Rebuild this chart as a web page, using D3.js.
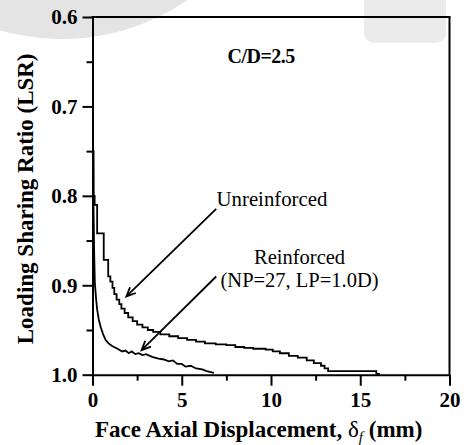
<!DOCTYPE html>
<html>
<head>
<meta charset="utf-8">
<script src="https://cdn.jsdelivr.net/npm/d3@7"></script>
<style>
  html, body { margin: 0; padding: 0; background: #fff; }
  svg { display: block; }
</style>
</head>
<body>
<script>
// ---- data ----
const xTicks = [0, 5, 10, 15, 20];
const xMinorTicks = [2.5, 7.5, 12.5, 17.5];
const yTicks = [0.6, 0.7, 0.8, 0.9, 1.0];
const yMinorTicks = [0.65, 0.75, 0.85, 0.95];

const unreinforcedX = [0.03, 0.06, 0.12, 0.26, 0.63, 0.88, 1.00, 1.12, 1.22, 1.35, 1.50, 1.62, 1.80, 2.00, 2.25, 2.50, 2.80, 3.10, 3.40, 3.80, 4.30, 4.80, 5.30, 5.80, 6.30, 6.90, 7.50, 8.00, 8.50, 9.00, 9.70, 10.10, 10.50, 11.00, 11.50, 12.00, 12.40, 12.80, 13.00, 13.20, 13.30, 15.90, 16.10];
const unreinforcedLSR = [0.66, 0.75, 0.80, 0.810, 0.842, 0.8715, 0.890, 0.896, 0.903, 0.910, 0.916, 0.921, 0.926, 0.931, 0.936, 0.940, 0.944, 0.947, 0.950, 0.952, 0.955, 0.957, 0.959, 0.961, 0.963, 0.965, 0.966, 0.967, 0.969, 0.970, 0.971, 0.972, 0.974, 0.976, 0.979, 0.981, 0.984, 0.987, 0.990, 0.993, 0.996, 0.996, 0.999];

const reinforcedX = [0.02, 0.05, 0.09, 0.13, 0.20, 0.26, 0.35, 0.45, 0.58, 0.73, 0.90, 1.10, 1.40, 1.66, 1.85, 2.03, 2.20, 2.40, 2.59, 2.80, 3.00, 3.34, 3.70, 4.00, 4.27, 4.50, 4.75, 5.00, 5.21, 5.50, 5.80, 6.15, 6.40, 6.80];
const reinforcedLSR = [0.70, 0.80, 0.86, 0.897, 0.915, 0.927, 0.938, 0.946, 0.954, 0.961, 0.965, 0.968, 0.971, 0.974, 0.973, 0.976, 0.974, 0.977, 0.976, 0.978, 0.977, 0.980, 0.982, 0.983, 0.985, 0.984, 0.988, 0.988, 0.991, 0.990, 0.993, 0.994, 0.996, 0.998];

// annotations (data units)
const caseLabel = { text: "C/D=2.5", x: 7.56, y: 0.6514 };
const unreinforcedLabel = { text: "Unreinforced", x: 6.95, y: 0.8112 };
const reinforcedLabel = { lines: ["Reinforced", "(NP=27, LP=1.0D)"], x: 11.6, y: [0.8765, 0.9015] };
const arrows = [
  { x1: 6.93, y1: 0.8145, x2: 1.90, y2: 0.9125 },
  { x1: 6.93, y1: 0.8902, x2: 2.75, y2: 0.9726 }
];

// ---- layout ----
const W = 464, H = 445;
const svg = d3.select("body").append("svg").attr("width", W).attr("height", H);
const serif = "'Liberation Serif', 'Times New Roman', serif";

// background decorations
svg.append("circle").attr("cx", 62).attr("cy", -182).attr("r", 221).attr("fill", "#e4e4e4");
svg.append("rect").attr("x", 364).attr("y", -15).attr("width", 82).attr("height", 58)
  .attr("rx", 10).attr("fill", "#ebebeb");

const x = d3.scaleLinear().domain([0, 20]).range([92.5, 449.5]);
const y = d3.scaleLinear().domain([0.6, 1.0]).range([17, 374.7]);

// curves
const lineStep = d3.line().x(d => x(d[0])).y(d => y(d[1])).curve(d3.curveStepBefore);
const lineLin = d3.line().x(d => x(d[0])).y(d => y(d[1]));
svg.append("path").datum(unreinforcedX.map((v, i) => [v, unreinforcedLSR[i]]))
  .attr("d", lineStep).attr("fill", "none").attr("stroke", "#000").attr("stroke-width", 1.8);
svg.append("path").datum(reinforcedX.map((v, i) => [v, reinforcedLSR[i]]))
  .attr("d", lineLin).attr("fill", "none").attr("stroke", "#000").attr("stroke-width", 1.8)
  .attr("stroke-linejoin", "miter");

// axes
function styleAxis(g) {
  g.select(".domain").attr("stroke-width", 2);
  g.selectAll(".tick line").attr("stroke-width", 2);
  g.selectAll("text").attr("font-family", serif).attr("font-weight", "bold")
    .attr("font-size", 21).attr("fill", "#000");
}
const gy = svg.append("g").attr("transform", `translate(${x(0)},0)`)
  .call(d3.axisLeft(y).tickValues(yTicks).tickSize(10).tickSizeOuter(0).tickPadding(5).tickFormat(d3.format(".1f")));
styleAxis(gy);
gy.selectAll("text").attr("dy", "0.33em");
const gyMinor = svg.append("g").attr("transform", `translate(${x(0)},0)`)
  .call(d3.axisLeft(y).tickValues(yMinorTicks).tickSize(6).tickSizeOuter(0).tickFormat(""));
gyMinor.select(".domain").remove();
gyMinor.selectAll(".tick line").attr("stroke-width", 2);

const gx = svg.append("g").attr("transform", `translate(0,${y(1.0)})`)
  .call(d3.axisBottom(x).tickValues(xTicks).tickSize(11).tickSizeOuter(0).tickPadding(6).tickFormat(d3.format("d")));
styleAxis(gx);
const gxMinor = svg.append("g").attr("transform", `translate(0,${y(1.0)})`)
  .call(d3.axisBottom(x).tickValues(xMinorTicks).tickSize(6).tickSizeOuter(0).tickFormat(""));
gxMinor.select(".domain").remove();
gxMinor.selectAll(".tick line").attr("stroke-width", 2);

// frame top & right
svg.append("line").attr("x1", x(0) - 1).attr("x2", x(20) + 1).attr("y1", y(0.6)).attr("y2", y(0.6))
  .attr("stroke", "#000").attr("stroke-width", 2);
svg.append("line").attr("x1", x(20)).attr("x2", x(20)).attr("y1", y(0.6)).attr("y2", y(1.0))
  .attr("stroke", "#000").attr("stroke-width", 2);

// axis titles
svg.append("text")
  .attr("transform", `translate(33,${(y(0.6) + y(1.0)) / 2 + 3}) rotate(-90)`)
  .attr("text-anchor", "middle").attr("font-family", serif).attr("font-weight", "bold")
  .attr("font-size", 23).text("Loading Sharing Ratio (LSR)");

const xt = svg.append("text").attr("x", 95).attr("y", 437)
  .attr("font-family", serif).attr("font-size", 23);
xt.append("tspan").attr("font-weight", "bold").text("Face Axial Displacement, ");
xt.append("tspan").attr("font-weight", "normal").text("δ");
xt.append("tspan").attr("font-style", "italic").attr("font-size", 15).attr("dy", 5).text("f");
xt.append("tspan").attr("font-weight", "bold").attr("dy", -5).text(" (mm)");

// annotations
svg.append("text").attr("x", x(caseLabel.x)).attr("y", y(caseLabel.y))
  .attr("font-family", serif).attr("font-weight", "bold").attr("font-size", 20)
  .attr("letter-spacing", -0.5).text(caseLabel.text);
svg.append("text").attr("x", x(unreinforcedLabel.x)).attr("y", y(unreinforcedLabel.y))
  .attr("font-family", serif).attr("font-size", 20.8).text(unreinforcedLabel.text);
reinforcedLabel.lines.forEach((t, i) => {
  svg.append("text").attr("x", x(reinforcedLabel.x)).attr("y", y(reinforcedLabel.y[i]))
    .attr("text-anchor", "middle").attr("font-family", serif).attr("font-size", 20.5).text(t);
});

arrows.forEach(a => {
  const X1 = x(a.x1), Y1 = y(a.y1), X2 = x(a.x2), Y2 = y(a.y2);
  svg.append("line").attr("x1", X1).attr("y1", Y1).attr("x2", X2).attr("y2", Y2)
    .attr("stroke", "#000").attr("stroke-width", 1.8);
  const ang = Math.atan2(Y1 - Y2, X1 - X2);
  const L = 10, spread = 0.42;
  const p1 = [X2 + L * Math.cos(ang + spread), Y2 + L * Math.sin(ang + spread)];
  const p2 = [X2 + L * Math.cos(ang - spread), Y2 + L * Math.sin(ang - spread)];
  svg.append("path").attr("d", `M${p1[0]},${p1[1]}L${X2},${Y2}L${p2[0]},${p2[1]}`)
    .attr("fill", "none").attr("stroke", "#000").attr("stroke-width", 1.8);
});
</script>
</body>
</html>
